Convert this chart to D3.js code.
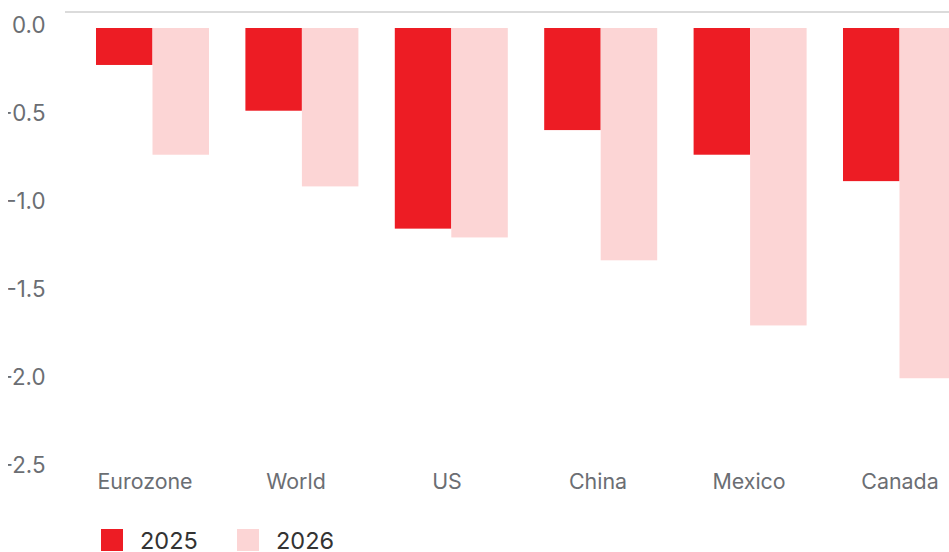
<!DOCTYPE html>
<html>
<head>
<meta charset="utf-8">
<script src="https://cdn.jsdelivr.net/npm/d3@7"></script>
<style>
  html, body { margin: 0; padding: 0; background: #fff; overflow: hidden; }
  svg { display: block; font-family: Inter, "Noto Sans", sans-serif; }
</style>
</head>
<body>
<svg id="chart" width="949" height="552"></svg>
<script>
const categories = ["Eurozone", "World", "US", "China", "Mexico", "Canada"];
const seriesNames = ["2025", "2026"];
const values2025 = [-0.21, -0.47, -1.14, -0.58, -0.72, -0.87];
const values2026 = [-0.72, -0.90, -1.19, -1.32, -1.69, -1.99];
const yTicks = [0, -0.5, -1.0, -1.5, -2.0, -2.5];
const colors = ["#ED1C24", "#FCD5D5"];

const svg = d3.select("#chart");
const W = 949, H = 552;

const data = categories.map((c, i) => ({ cat: c, vals: [values2025[i], values2026[i]] }));

const y = d3.scaleLinear().domain([0, -2.5]).range([28, 468]);
const x = d3.scaleBand().domain(categories).range([77.8, 974.2]).paddingInner(0.2436).paddingOuter(0.1218);
const xs = d3.scaleBand().domain(seriesNames).range([0, x.bandwidth()]);
const xLabel = d3.scalePoint().domain(categories).range([145, 900]);

// top gridline
svg.append("line")
  .attr("x1", 65).attr("x2", W)
  .attr("y1", 12).attr("y2", 12)
  .attr("stroke", "#cfcfcf").attr("stroke-width", 1.6);

// bars
const g = svg.append("g");
g.selectAll("g.grp").data(data).join("g")
  .attr("class", "grp")
  .attr("transform", d => `translate(${x(d.cat)},0)`)
  .selectAll("rect").data(d => d.vals.map((v, k) => ({ v, k })))
  .join("rect")
  .attr("x", d => xs(seriesNames[d.k]))
  .attr("width", xs.bandwidth())
  .attr("y", y(0))
  .attr("height", d => y(d.v) - y(0))
  .attr("fill", d => colors[d.k]);

// y tick labels (clipped at left edge)
svg.append("defs").append("clipPath").attr("id", "yclip")
  .append("rect").attr("x", 8).attr("y", 0).attr("width", 60).attr("height", H);
const yAxis = svg.append("g").attr("clip-path", "url(#yclip)");
yAxis.selectAll("text").data(yTicks).join("text")
  .attr("x", 45.5)
  .attr("y", d => y(d) - 4)
  .attr("text-anchor", "end")
  .attr("dominant-baseline", "central")
  .attr("font-size", 22.3)
  .attr("fill", "#6b6e73")
  .text(d => d3.format(".1f")(d).replace("−", "-"));

// x labels
svg.append("g").selectAll("text").data(categories).join("text")
  .attr("x", d => xLabel(d))
  .attr("y", 489)
  .attr("text-anchor", "middle")
  .attr("font-size", 21.4)
  .attr("fill", "#6b6e73")
  .text(d => d);

// legend
const legendX = [101, 237];
const lg = svg.append("g");
seriesNames.forEach((s, i) => {
  lg.append("rect").attr("x", legendX[i]).attr("y", 529).attr("width", 22).attr("height", 22).attr("fill", colors[i]);
  lg.append("text").attr("x", legendX[i] + 39).attr("y", 549)
    .attr("font-size", 23.5).attr("fill", "#333")
    .text(s);
});
</script>
</body>
</html>
